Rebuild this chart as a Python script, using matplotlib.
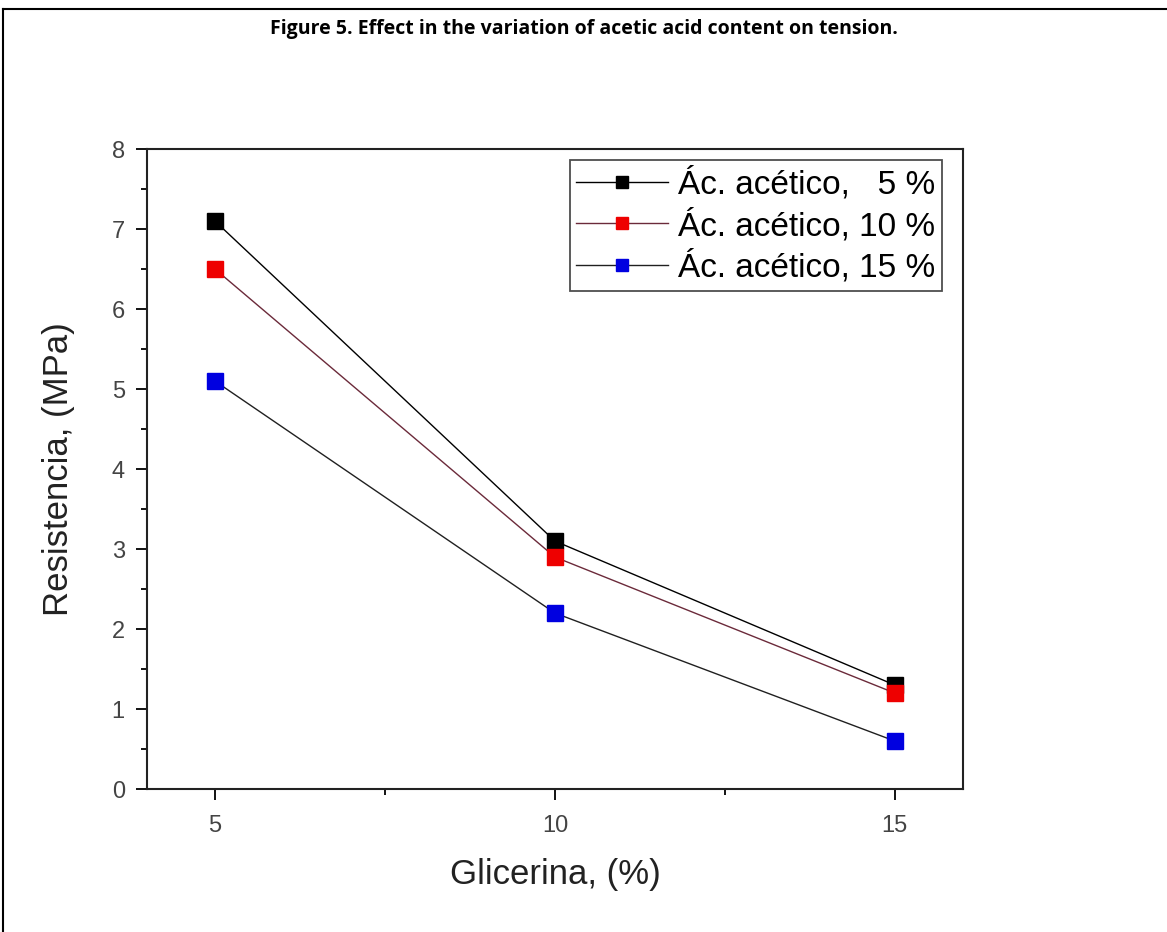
import matplotlib
matplotlib.use("Agg")
import matplotlib.pyplot as plt
from matplotlib.lines import Line2D
from matplotlib.ticker import MultipleLocator

# data
glicerina = [5, 10, 15]
acetico_5 = [7.1, 3.1, 1.3]
acetico_10 = [6.5, 2.9, 1.2]
acetico_15 = [5.1, 2.2, 0.6]
labels = ["Ác. acético,   5 %", "Ác. acético, 10 %", "Ác. acético, 15 %"]

plt.rcParams['font.family'] = ['Liberation Sans', 'DejaVu Sans']

fig = plt.figure(figsize=(11.67, 9.32), dpi=100)
ax = fig.add_axes([0.126, 0.1534, 0.699, 0.6866])

# frame around the figure (only top and left show)
fig.add_artist(Line2D([0.0026, 1.0], [0.9903, 0.9903], color='black', lw=1.5))
fig.add_artist(Line2D([0.0026, 0.0026], [0.0, 0.9903], color='black', lw=1.5))

fig.text(0.5, 0.969, "Figure 5. Effect in the variation of acetic acid content on tension.",
         ha='center', va='center', fontsize=14, fontweight='bold',
         family=['Open Sans', 'DejaVu Sans'])

ax.plot(glicerina, acetico_5, color='black', lw=1, marker='s', ms=11,
        mfc='black', mec='black', label=labels[0])
ax.plot(glicerina, acetico_10, color='#6b2a3a', lw=1, marker='s', ms=11,
        mfc='#ee0000', mec='#ee0000', label=labels[1])
ax.plot(glicerina, acetico_15, color='#202020', lw=1, marker='s', ms=11,
        mfc='#0000e0', mec='#0000e0', label=labels[2])

ax.set_xlim(4, 16)
ax.set_ylim(0, 8)
ax.set_xticks(glicerina)
ax.xaxis.set_minor_locator(MultipleLocator(2.5))
ax.yaxis.set_major_locator(MultipleLocator(1))
ax.yaxis.set_minor_locator(MultipleLocator(0.5))
ax.tick_params(which='major', direction='out', length=8, width=1.3,
               labelsize=17, labelcolor='#444444', pad=8)
ax.tick_params(axis='x', which='major', pad=11)
ax.tick_params(which='minor', direction='out', length=4, width=1.3)
for s in ax.spines.values():
    s.set_linewidth(1.5)
    s.set_color('#222222')

ax.set_xlabel("Glicerina, (%)", fontsize=25, color='#222222', labelpad=15)
ax.set_ylabel("Resistencia, (MPa)", fontsize=25, color='#222222', labelpad=26)

leg = ax.legend(loc='upper right', bbox_to_anchor=(1 - 21 / 816, 1 - 11 / 640),
                borderaxespad=0, fontsize=24, frameon=True, fancybox=False,
                edgecolor='#222222', handlelength=2.75, markerscale=0.8,
                handletextpad=0.3, borderpad=0.2, labelspacing=0.25)
leg.get_frame().set_linewidth(1.3)

fig.savefig("out.png", dpi=100)
